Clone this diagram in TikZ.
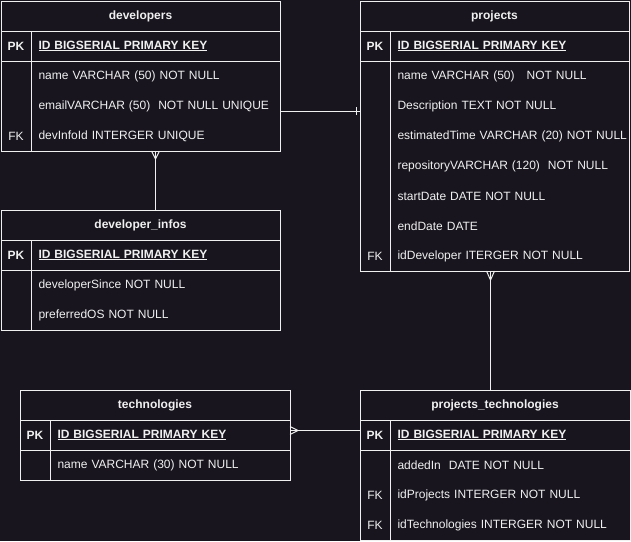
\documentclass[tikz,border=0pt]{standalone}
\usepackage{fontspec}
\setmainfont{Liberation Sans}
\usetikzlibrary{positioning}

\definecolor{bgdark}{RGB}{24,21,30}
\definecolor{inkw}{RGB}{240,240,240}

\tikzset{
    tblhead/.style={draw=inkw, anchor=north west, minimum height=30pt, inner sep=0pt, outer sep=0pt,
        font=\fontsize{12}{14}\selectfont\bfseries},
    keycell/.style={minimum width=30pt, minimum height=30pt, inner sep=0pt, outer sep=0pt,
        font=\fontsize{12}{14}\selectfont},
    pkcell/.style={keycell, draw, font=\fontsize{12}{14}\selectfont\bfseries},
    valcell/.style={minimum height=30pt, inner xsep=7.5pt, inner ysep=0pt, outer sep=0pt, align=left,
        text width=#1, font=\fontsize{12}{14}\selectfont},
}

\begin{document}
\begin{tikzpicture}[x=1pt, y=-1pt, line width=1pt, draw=inkw, text=inkw]
    \fill[bgdark] (0,0) rectangle (631,541);
    \useasboundingbox (0,0) rectangle (631,541);

    % developers
    \node[tblhead, minimum width=279pt] (dev-h) at (1,1) {developers};
    \node[pkcell, below right=0pt of dev-h.south west] (dev-k1) {PK};
    \node[valcell=234pt, draw, right=0pt of dev-k1] (dev-v1) {\mbox{\textbf{\underline{ID BIGSERIAL PRIMARY KEY}}}};
    \foreach \k/\t [count=\i from 2, remember=\i as \j (initially 1)] in
        { /name VARCHAR (50) NOT NULL, /emailVARCHAR (50)~ NOT NULL UNIQUE, FK/devInfoId INTERGER UNIQUE}{
        \node[keycell, below=0pt of dev-k\j] (dev-k\i) {\k};
        \node[valcell=234pt, right=0pt of dev-k\i] (dev-v\i) {\mbox{\t}};
    }
    \draw (dev-k2.north west) |- (dev-v4.south east) |- (dev-v2.north east);
    \draw (dev-k2.north east) -- (dev-k4.south east);

    % developer_infos
    \node[tblhead, minimum width=279pt] (info-h) at (1,210) {developer\_infos};
    \node[pkcell, below right=0pt of info-h.south west] (info-k1) {PK};
    \node[valcell=234pt, draw, right=0pt of info-k1] (info-v1) {\mbox{\textbf{\underline{ID BIGSERIAL PRIMARY KEY}}}};
    \foreach \k/\t [count=\i from 2, remember=\i as \j (initially 1)] in
        { /developerSince NOT NULL, /preferredOS NOT NULL}{
        \node[keycell, below=0pt of info-k\j] (info-k\i) {\k};
        \node[valcell=234pt, right=0pt of info-k\i] (info-v\i) {\mbox{\t}};
    }
    \draw (info-k2.north west) |- (info-v3.south east) |- (info-v2.north east);
    \draw (info-k2.north east) -- (info-k3.south east);

    % projects
    \node[tblhead, minimum width=269pt] (prj-h) at (360,1) {projects};
    \node[pkcell, below right=0pt of prj-h.south west] (prj-k1) {PK};
    \node[valcell=224pt, draw, right=0pt of prj-k1] (prj-v1) {\mbox{\textbf{\underline{ID BIGSERIAL PRIMARY KEY}}}};
    \foreach \k/\t [count=\i from 2, remember=\i as \j (initially 1)] in
        { /name VARCHAR (50)~~ NOT NULL, /Description TEXT NOT NULL,
          /estimatedTime VARCHAR (20) NOT NULL, /repositoryVARCHAR (120)~ NOT NULL,
          /startDate DATE NOT NULL, /endDate DATE, FK/idDeveloper ITERGER NOT NULL}{
        \node[keycell, below=0pt of prj-k\j] (prj-k\i) {\k};
        \node[valcell=224pt, right=0pt of prj-k\i] (prj-v\i) {\mbox{\t}};
    }
    \draw (prj-k2.north west) |- (prj-v8.south east) |- (prj-v2.north east);
    \draw (prj-k2.north east) -- (prj-k8.south east);

    % technologies
    \node[tblhead, minimum width=270pt] (tech-h) at (20,390) {technologies};
    \node[pkcell, below right=0pt of tech-h.south west] (tech-k1) {PK};
    \node[valcell=225pt, draw, right=0pt of tech-k1] (tech-v1) {\mbox{\textbf{\underline{ID BIGSERIAL PRIMARY KEY}}}};
    \foreach \k/\t [count=\i from 2, remember=\i as \j (initially 1)] in
        { /name VARCHAR (30) NOT NULL}{
        \node[keycell, below=0pt of tech-k\j] (tech-k\i) {\k};
        \node[valcell=225pt, right=0pt of tech-k\i] (tech-v\i) {\mbox{\t}};
    }
    \draw (tech-k2.north west) |- (tech-v2.south east) |- (tech-v2.north east);
    \draw (tech-k2.north east) -- (tech-k2.south east);

    % projects_technologies
    \node[tblhead, minimum width=270pt] (pt-h) at (360,390) {projects\_technologies};
    \node[pkcell, below right=0pt of pt-h.south west] (pt-k1) {PK};
    \node[valcell=225pt, draw, right=0pt of pt-k1] (pt-v1) {\mbox{\textbf{\underline{ID BIGSERIAL PRIMARY KEY}}}};
    \foreach \k/\t [count=\i from 2, remember=\i as \j (initially 1)] in
        { /addedIn~ DATE NOT NULL, FK/idProjects INTERGER NOT NULL, FK/idTechnologies INTERGER NOT NULL}{
        \node[keycell, below=0pt of pt-k\j] (pt-k\i) {\k};
        \node[valcell=225pt, right=0pt of pt-k\i] (pt-v\i) {\mbox{\t}};
    }
    \draw (pt-k2.north west) |- (pt-v4.south east) |- (pt-v2.north east);
    \draw (pt-k2.north east) -- (pt-k4.south east);

    % relations
    \draw (dev-v4.south) -- (dev-v4.south |- info-h.north);
    \draw (dev-v4.south) ++(-4,0) -- ++(4,8) -- ++(4,-8);

    \path (dev-v3.east) ++(0,5) coordinate (devR);
    \draw (devR) -- (devR -| prj-k3.west);
    \draw (devR -| prj-k3.west) ++(-4,-4) -- ++(0,8);

    \path (prj-v8.south -| prj-h.south) ++(-4,0) coordinate (prjB);
    \draw (prjB) -- (prjB |- pt-h.north);
    \draw (prjB) ++(-4,0) -- ++(4,9) -- ++(4,-9);

    \path (tech-v1.east) ++(0,-4.5) coordinate (techR);
    \draw (techR) -- (techR -| pt-k1.west);
    \draw (techR) ++(0,-4) -- ++(8,4) -- ++(-8,4);
\end{tikzpicture}
\end{document}
